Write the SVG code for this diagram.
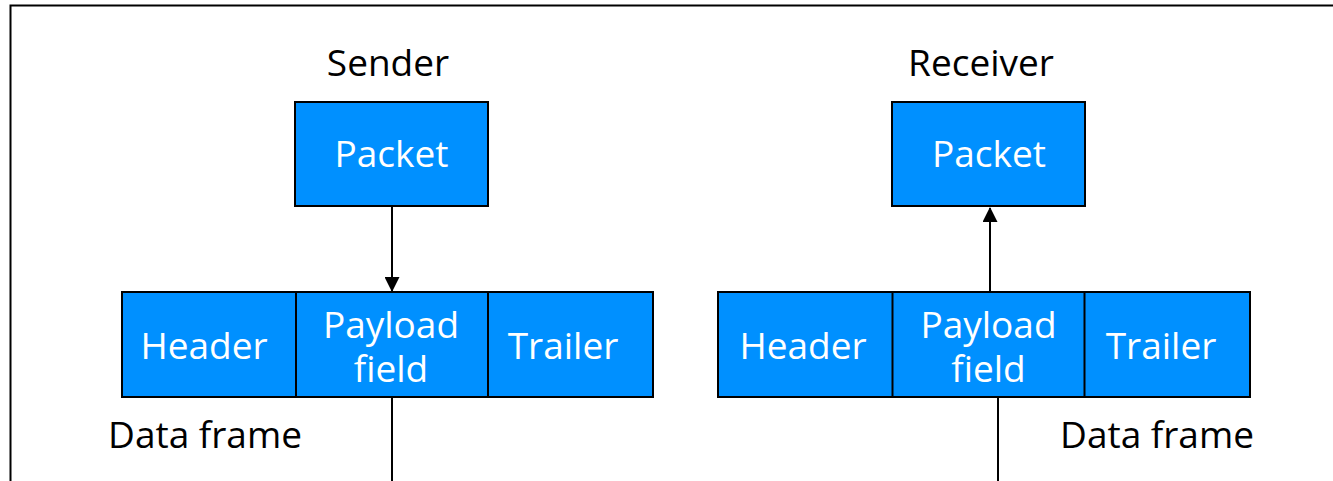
<svg xmlns="http://www.w3.org/2000/svg" width="1333" height="481" viewBox="0 0 1333 481">
  <style>
    .box { fill: #0090ff; stroke: #000; stroke-width: 2; }
    .div { stroke: #000; stroke-width: 2; }
    .in { font-family: "Open Sans", "Noto Sans", sans-serif; font-size: 37px; fill: #fff; text-anchor: middle; }
    .lbl { font-family: "Open Sans", "Noto Sans", sans-serif; font-size: 37px; fill: #000; text-anchor: middle; }
    .wire { stroke: #000; stroke-width: 2; fill: none; }
  </style>
  <defs>
    <marker id="arrow" markerWidth="15" markerHeight="15" refX="14" refY="7.5" orient="auto" markerUnits="userSpaceOnUse">
      <path d="M0,0 L15,7.5 L0,15 Z" fill="#000"/>
    </marker>
  </defs>

  <rect width="1333" height="481" fill="#fff"/>
  <!-- outer frame (top and left edges) -->
  <path d="M10.5,481 V5.5 H1333" fill="none" stroke="#000" stroke-width="2"/>

  <!-- captions -->
  <text class="lbl" x="388" y="76">Sender</text>
  <text class="lbl" x="981" y="76">Receiver</text>
  <text class="lbl" x="205" y="448">Data frame</text>
  <text class="lbl" x="1157" y="448">Data frame</text>

  <!-- connectors -->
  <g id="connectors">
    <line class="wire" x1="392" y1="206" x2="392" y2="291" marker-end="url(#arrow)"/>
    <line class="wire" x1="392" y1="397" x2="392" y2="481"/>
    <line class="wire" x1="990" y1="292" x2="990" y2="208" marker-end="url(#arrow)"/>
    <line class="wire" x1="998" y1="397" x2="998" y2="481"/>
  </g>

  <!-- sender side -->
  <g id="sender-packet">
    <rect class="box" x="295" y="102" width="193" height="104"/>
    <text class="in" x="391.5" y="167">Packet</text>
  </g>
  <g id="sender-frame">
    <rect class="box" x="122" y="292" width="531" height="105"/>
    <line class="div" x1="296" y1="292" x2="296" y2="397"/>
    <line class="div" x1="488" y1="292" x2="488" y2="397"/>
    <text class="in" x="204" y="359">Header</text>
    <text class="in"><tspan x="391" y="338">Payload</tspan><tspan x="391" y="382">field</tspan></text>
    <text class="in" x="563" y="359">Trailer</text>
  </g>

  <!-- receiver side -->
  <g id="receiver-packet">
    <rect class="box" x="892" y="102" width="193" height="104"/>
    <text class="in" x="989" y="167">Packet</text>
  </g>
  <g id="receiver-frame">
    <rect class="box" x="718" y="292" width="532" height="105"/>
    <line class="div" x1="892.5" y1="292" x2="892.5" y2="397"/>
    <line class="div" x1="1084.5" y1="292" x2="1084.5" y2="397"/>
    <text class="in" x="803" y="359">Header</text>
    <text class="in"><tspan x="988.5" y="338">Payload</tspan><tspan x="988.5" y="382">field</tspan></text>
    <text class="in" x="1161" y="359">Trailer</text>
  </g>
</svg>
